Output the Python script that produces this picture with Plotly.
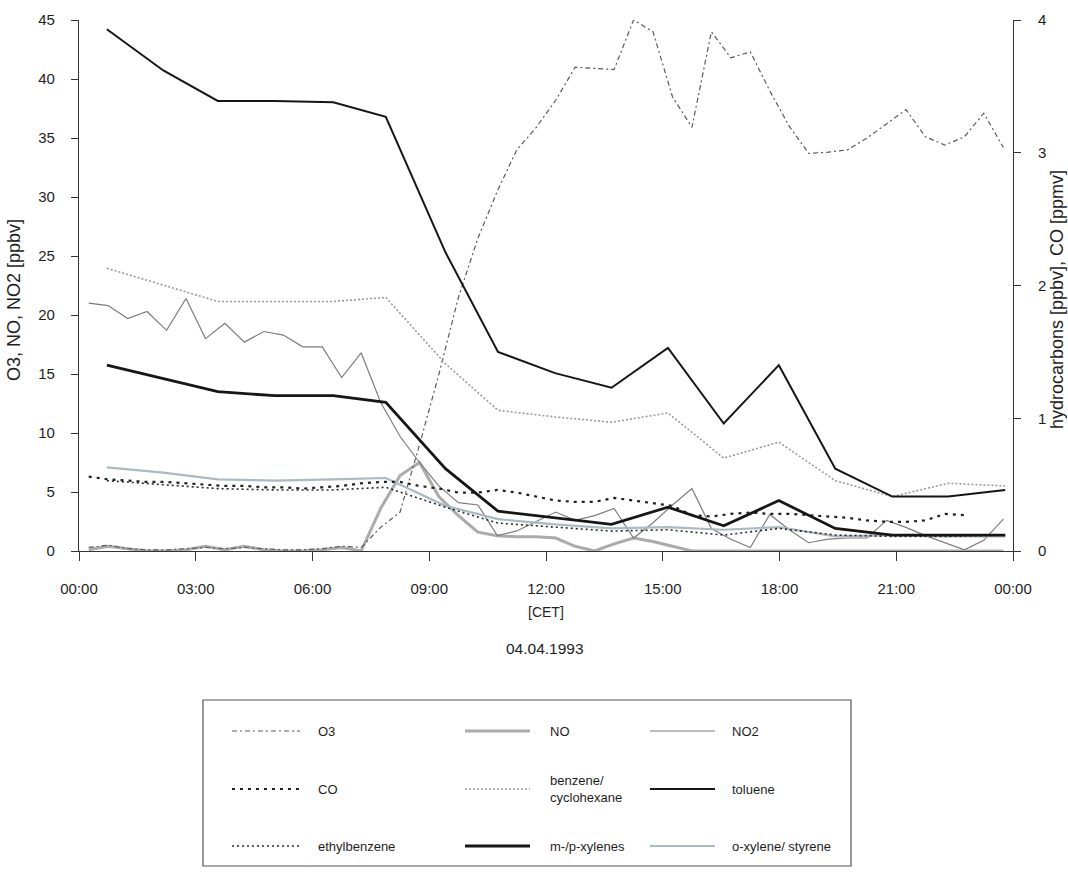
import plotly.graph_objects as go

DAY = "1993-04-04"

# half-hourly sampling (O3, NO, NO2, CO)
HALF_HOURS = [
    "00:15", "00:45", "01:15", "01:45", "02:15", "02:45", "03:15", "03:45",
    "04:15", "04:45", "05:15", "05:45", "06:15", "06:45", "07:15", "07:45",
    "08:15", "08:45", "09:15", "09:45", "10:15", "10:45", "11:15", "11:45",
    "12:15", "12:45", "13:15", "13:45", "14:15", "14:45", "15:15", "15:45",
    "16:15", "16:45", "17:15", "17:45", "18:15", "18:45", "19:15", "19:45",
    "20:15", "20:45", "21:15", "21:45", "22:15", "22:45", "23:15", "23:45",
]

# hydrocarbon canister samples
HC_TIMES = [
    "00:43", "02:10", "03:34", "05:02", "06:32", "07:53", "09:25", "10:46",
    "12:14", "13:41", "15:08", "16:34", "17:59", "19:26", "20:54", "22:20", "23:48",
]

# left axis [ppbv]
O3 = [0.3, 0.5, 0.2, 0.1, 0.1, 0.2, 0.3, 0.2, 0.3, 0.2, 0.1, 0.1, 0.2, 0.4,
      0.3, 2.0, 3.3, 9.0, 15.0, 21.5, 26.5, 30.5, 34.0, 35.9, 38.2, 41.0,
      40.9, 40.8, 45.0, 44.0, 38.5, 35.9, 44.0, 41.8, 42.3, 39.0, 36.0, 33.7,
      33.8, 34.0, 35.0, 36.2, 37.4, 35.1, 34.4, 35.1, 37.1, 34.2]
NO = [0.1, 0.4, 0.2, 0.0, 0.0, 0.1, 0.4, 0.1, 0.4, 0.1, 0.0, 0.0, 0.1, 0.3,
      0.0, 3.6, 6.4, 7.5, 4.6, 3.0, 1.6, 1.3, 1.2, 1.2, 1.1, 0.4, 0.0, 0.6,
      1.1, 0.8, 0.4, 0.0, 0.0, 0.0, 0.0, 0.0, 0.0, 0.0, 0.0, 0.0, 0.0, 0.0,
      0.0, 0.0, 0.0, 0.0, 0.0, 0.0]
NO2 = [21.0, 20.8, 19.7, 20.3, 18.7, 21.4, 18.0, 19.3, 17.7, 18.6, 18.3, 17.3,
       17.3, 14.7, 16.8, 12.6, 9.7, 7.5, 5.5, 4.1, 3.9, 1.3, 1.7, 2.5, 3.3,
       2.6, 3.0, 3.6, 1.1, 2.4, 3.9, 5.3, 1.9, 1.0, 0.3, 3.1, 1.8, 0.7, 1.0,
       1.1, 1.1, 2.6, 2.0, 1.3, 0.7, 0.1, 0.9, 2.7]

# right axis: CO [ppmv] (00:15 .. 22:45), hydrocarbons [ppbv]
CO = [0.56, 0.54, 0.53, 0.52, 0.52, 0.51, 0.50, 0.49, 0.49, 0.48, 0.48, 0.47,
      0.48, 0.49, 0.51, 0.52, 0.52, 0.49, 0.47, 0.44, 0.44, 0.46, 0.44, 0.41,
      0.38, 0.37, 0.37, 0.40, 0.38, 0.36, 0.34, 0.27, 0.26, 0.28, 0.29, 0.28,
      0.28, 0.27, 0.26, 0.25, 0.23, 0.22, 0.22, 0.23, 0.28, 0.27]
BENZENE = [2.13, 2.00, 1.88, 1.88, 1.88, 1.91, 1.41, 1.06, 1.01, 0.97, 1.04,
           0.70, 0.82, 0.53, 0.41, 0.51, 0.49]
TOLUENE = [3.93, 3.62, 3.39, 3.39, 3.38, 3.27, 2.25, 1.50, 1.34, 1.23, 1.53,
           0.96, 1.40, 0.62, 0.41, 0.41, 0.46]
ETHYLBENZENE = [0.53, 0.50, 0.47, 0.46, 0.46, 0.48, 0.33, 0.21, 0.18, 0.15,
                0.16, 0.12, 0.17, 0.12, 0.11, 0.11, 0.12]
MP_XYLENES = [1.40, 1.30, 1.20, 1.17, 1.17, 1.12, 0.62, 0.30, 0.25, 0.20, 0.33,
              0.19, 0.38, 0.17, 0.12, 0.12, 0.12]
O_XYLENE = [0.63, 0.59, 0.54, 0.53, 0.54, 0.55, 0.34, 0.24, 0.20, 0.17, 0.18,
            0.16, 0.18, 0.11, 0.12, 0.11, 0.11]

FONT = "Liberation Sans, Arial, sans-serif"
INK = "#1e1e1e"

# line styles: colour, width, dash
STYLE = {
    "O3": ("#5a5a5a", 1.2, "5px,3px,2px,3px"),
    "NO": ("#ababab", 3.0, "solid"),
    "NO2": ("#7d7d7d", 1.2, "solid"),
    "CO": ("#222222", 2.2, "3px,5px"),
    "benzene": ("#9a9a9a", 1.6, "2px,2px"),
    "toluene": ("#161616", 2.0, "solid"),
    "ethylbenzene": ("#2a2a2a", 1.6, "2px,3px"),
    "m-/p-xylenes": ("#161616", 2.8, "solid"),
    "o-xylene": ("#a9bac2", 2.2, "solid"),
}


def stamp(times):
    return [f"{DAY} {t}" for t in times]


fig = go.Figure()


def add(name, x, y, axis):
    c, w, d = STYLE[name]
    fig.add_trace(go.Scatter(
        x=stamp(x), y=y, name=name, mode="lines", yaxis=axis,
        line=dict(color=c, width=w, dash=d), showlegend=False,
    ))


# drawing order: background series first, heavy lines on top
add("o-xylene", HC_TIMES, O_XYLENE, "y2")
add("NO", HALF_HOURS, NO, "y")
add("benzene", HC_TIMES, BENZENE, "y2")
add("NO2", HALF_HOURS, NO2, "y")
add("ethylbenzene", HC_TIMES, ETHYLBENZENE, "y2")
add("CO", HALF_HOURS[:len(CO)], CO, "y2")
add("O3", HALF_HOURS, O3, "y")
add("m-/p-xylenes", HC_TIMES, MP_XYLENES, "y2")
add("toluene", HC_TIMES, TOLUENE, "y2")

# plot frame in pixels
W, H = 1068, 873
PL, PR, PT, PB = 79, 1013, 20, 551


def px(x):
    return (x - PL) / (PR - PL)


def py(y):
    return (PB - y) / (PB - PT)


axis_common = dict(
    showline=True, linecolor="#333333", linewidth=1.2, showgrid=False,
    zeroline=False, ticks="outside", tickcolor="#333333", tickwidth=1.2,
    tickfont=dict(family=FONT, size=15, color=INK),
)

fig.update_layout(
    width=W, height=H,
    margin=dict(l=PL, r=W - PR, t=PT, b=H - PB),
    paper_bgcolor="white", plot_bgcolor="white",
    showlegend=False,
    xaxis=dict(
        axis_common, type="date",
        range=[f"{DAY} 00:00", "1993-04-05 00:00"],
        tick0=f"{DAY} 00:00", dtick=3 * 3600 * 1000, tickformat="%H:%M",
        ticklen=9, ticklabelstandoff=15,
    ),
    yaxis=dict(
        axis_common, range=[0, 45], dtick=5, ticklen=7, ticklabelstandoff=13,
    ),
    yaxis2=dict(
        axis_common, range=[0, 4], dtick=1, ticklen=7, ticklabelstandoff=14,
        overlaying="y", side="right",
    ),
)

annotations = [
    dict(text="O3, NO, NO2 [ppbv]", x=px(14), y=py(300), textangle=-90,
         font=dict(family=FONT, size=18, color=INK)),
    dict(text="hydrocarbons [ppbv], CO [ppmv]", x=px(1057), y=py(300),
         textangle=-90, font=dict(family=FONT, size=18, color=INK)),
    dict(text="[CET]", x=px(546), y=py(612),
         font=dict(family=FONT, size=14, color=INK)),
    dict(text="04.04.1993", x=px(545), y=py(648),
         font=dict(family=FONT, size=15.5, color=INK)),
]
for a in annotations:
    a.update(xref="paper", yref="paper", showarrow=False,
             xanchor="center", yanchor="middle")

# legend panel: 3 x 3 grid of line samples and labels
shapes = [dict(type="rect", xref="paper", yref="paper",
               x0=px(203), x1=px(851), y0=py(866), y1=py(700),
               line=dict(color="#555555", width=1.2), fillcolor="white",
               layer="below")]

LEGEND_COLS = [(232, 300, 316), (465, 530, 548), (650, 715, 730)]
LEGEND_ROWS = [731, 789, 846]
LEGEND_ITEMS = [
    ("O3", "O3"), ("NO", "NO"), ("NO2", "NO2"),
    ("CO", "CO"), ("benzene", "benzene/<br>cyclohexane"), ("toluene", "toluene"),
    ("ethylbenzene", "ethylbenzene"), ("m-/p-xylenes", "m-/p-xylenes"),
    ("o-xylene", "o-xylene/ styrene"),
]
for i, (key, label) in enumerate(LEGEND_ITEMS):
    x0, x1, xt = LEGEND_COLS[i % 3]
    yr = LEGEND_ROWS[i // 3]
    c, w, d = STYLE[key]
    shapes.append(dict(type="line", xref="paper", yref="paper",
                       x0=px(x0), x1=px(x1), y0=py(yr), y1=py(yr),
                       line=dict(color=c, width=w, dash=d)))
    annotations.append(dict(
        text=label, x=px(xt), y=py(yr), xref="paper", yref="paper",
        showarrow=False, xanchor="left", yanchor="middle", align="left",
        font=dict(family=FONT, size=13, color=INK),
    ))

fig.update_layout(shapes=shapes, annotations=annotations)

fig.write_html("out.html")
